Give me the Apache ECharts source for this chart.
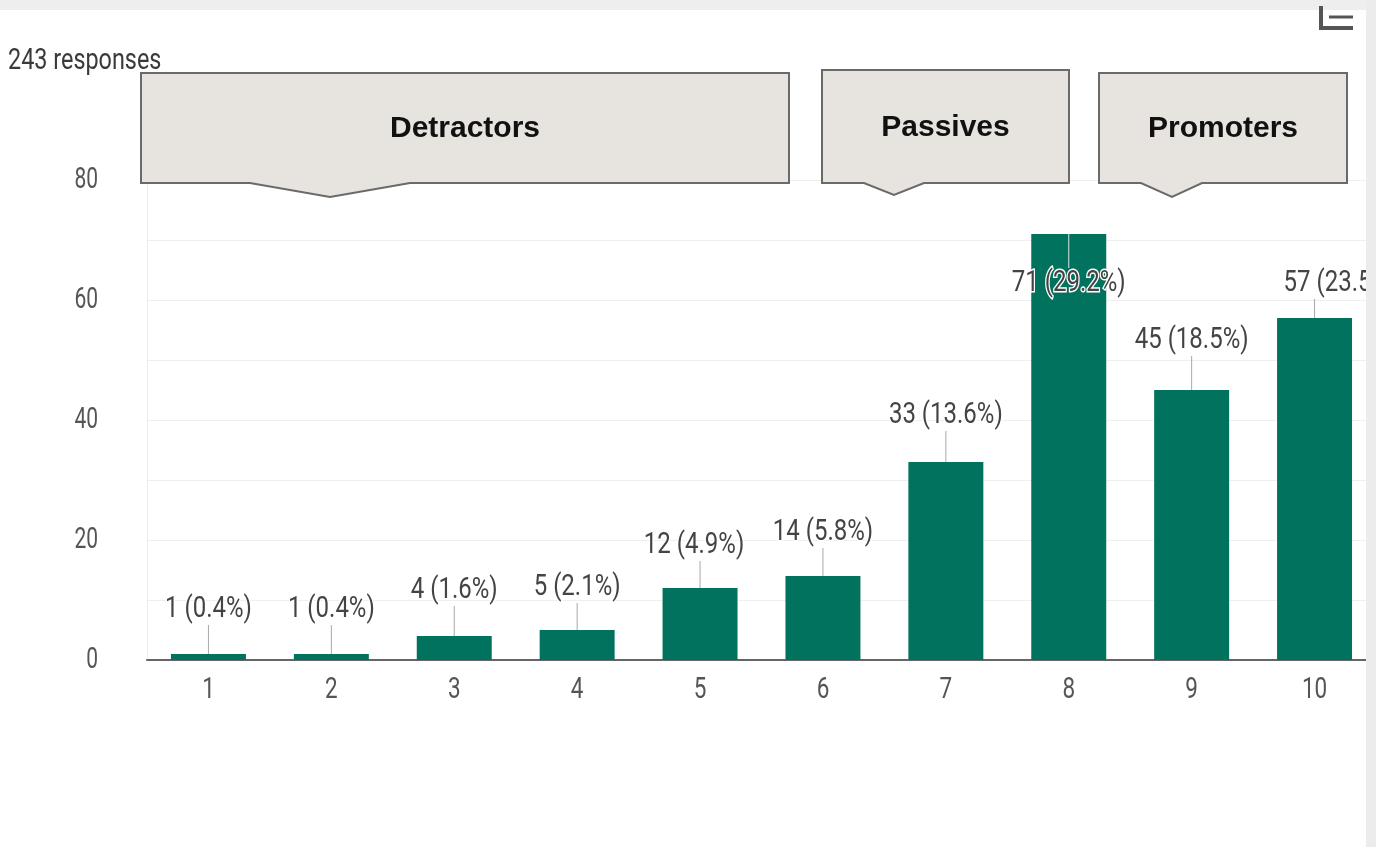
<!DOCTYPE html>
<html>
<head>
<meta charset="utf-8">
<title>243 responses</title>
<script src="https://cdn.jsdelivr.net/npm/echarts@6/dist/echarts.min.js"></script>
<style>
  html, body { margin: 0; padding: 0; background: #ffffff; }
  #chart { width: 1376px; height: 847px; }
</style>
</head>
<body>
<div id="chart"></div>
<script>
// Survey scores 1–10 and the number of responses for each
const categories = ['1', '2', '3', '4', '5', '6', '7', '8', '9', '10'];
const counts = [1, 1, 4, 5, 12, 14, 33, 71, 45, 57];
const percents = ['0.4', '0.4', '1.6', '2.1', '4.9', '5.8', '13.6', '29.2', '18.5', '23.5'];
const yTicks = [0, 20, 40, 60, 80];
const totalLabel = '243 responses';
const groups = ['Detractors', 'Passives', 'Promoters'];

// label placement relative to the top of each bar (pixels)
const labelDy = [-45, -45, -46, -43, -43, -44, -47, 49, -50, -35];
const labelDx = [0, 0, 0, 0, -6, 0, 0, 0, 0, 26];

const BAR = '#00725e';
const TEXT = '#444444';
const AXIS_TEXT = '#555555';
const NUM_FONT = 'Roboto, "Noto Sans", sans-serif';

const chart = echarts.init(document.getElementById('chart'), null, { renderer: 'canvas' });

function valueLabels(params, api) {
  const i = api.value(0);
  const v = api.value(1);
  const top = api.coord([i, v]);
  const dy = labelDy[i];
  const cx = top[0] + labelDx[i];
  const cy = top[1] + dy;
  const lineEnd = dy < 0 ? cy + 16 : cy - 15;
  return {
    type: 'group',
    children: [
      {
        type: 'line',
        shape: { x1: top[0], y1: top[1], x2: top[0], y2: lineEnd },
        style: { stroke: dy < 0 ? '#a8a8a8' : '#d6e6e2', lineWidth: 1 }
      },
      {
        type: 'text',
        x: cx, y: cy,
        scaleX: 0.8,
        style: {
          text: counts[i] + ' (' + percents[i] + '%)',
          font: '30px ' + NUM_FONT,
          fill: TEXT,
          align: 'center',
          verticalAlign: 'middle',
          stroke: '#ffffff',
          lineWidth: 3
        },
        z2: 10
      }
    ]
  };
}

function xTickLabels(params, api) {
  const i = api.value(0);
  const p = api.coord([i, 0]);
  return {
    type: 'text',
    x: p[0], y: p[1] + 30,
    scaleX: 0.75,
    style: {
      text: categories[i],
      font: '30px ' + NUM_FONT,
      fill: AXIS_TEXT,
      align: 'center',
      verticalAlign: 'middle'
    }
  };
}

function yTickLabels(params, api) {
  const v = api.value(1);
  const p = api.coord([0, v]);
  return {
    type: 'text',
    x: params.coordSys.x - 49, y: p[1],
    scaleX: 0.7,
    style: {
      text: String(v),
      font: '30px ' + NUM_FONT,
      fill: AXIS_TEXT,
      align: 'right',
      verticalAlign: 'middle'
    }
  };
}

// callout boxes with a small pointer on the bottom edge
function callout(x1, y1, x2, y2, px1, pxTip, px2, pyTip, label) {
  return [
    {
      type: 'polygon',
      z: 50,
      shape: {
        points: [[x1, y1], [x2, y1], [x2, y2], [px2, y2], [pxTip, pyTip], [px1, y2], [x1, y2]]
      },
      style: { fill: '#e7e3de', stroke: '#6a6a6a', lineWidth: 2 }
    },
    {
      type: 'text',
      z: 51,
      x: (x1 + x2) / 2,
      y: (y1 + y2) / 2 + 1,
      style: {
        text: label,
        font: 'bold 30px "Liberation Sans", Arial, sans-serif',
        fill: '#111111',
        align: 'center',
        verticalAlign: 'middle'
      }
    }
  ];
}

const option = {
  animation: false,
  backgroundColor: '#ffffff',
  grid: { left: 147, top: 180, width: 1241, height: 480, containLabel: false },
  xAxis: {
    type: 'category',
    data: categories,
    axisTick: { show: false },
    axisLabel: { show: false },
    axisLine: { show: true, lineStyle: { color: '#666666', width: 2 } },
    splitLine: { show: false }
  },
  yAxis: {
    type: 'value',
    min: 0,
    max: 80,
    interval: 10,
    axisLabel: { show: false },
    axisTick: { show: false },
    axisLine: { show: true, lineStyle: { color: '#ececec', width: 1 } },
    splitLine: { show: true, lineStyle: { color: '#efefef', width: 1 } }
  },
  series: [
    {
      type: 'bar',
      data: counts,
      barWidth: '61%',
      itemStyle: { color: BAR },
      z: 2
    },
    {
      type: 'custom',
      renderItem: valueLabels,
      data: counts.map((v, i) => [i, v]),
      z: 5,
      clip: false,
      silent: true
    },
    {
      type: 'custom',
      renderItem: xTickLabels,
      data: categories.map((c, i) => [i, 0]),
      z: 5,
      clip: false,
      silent: true
    },
    {
      type: 'custom',
      renderItem: yTickLabels,
      data: yTicks.map(v => [0, v]),
      z: 5,
      clip: false,
      silent: true
    }
  ],
  graphic: [
    // response count heading
    {
      type: 'text',
      z: 60,
      x: 8, y: 61,
      scaleX: 0.78,
      style: {
        text: totalLabel,
        font: '30px ' + NUM_FONT,
        fill: '#3a3a3a',
        align: 'left',
        verticalAlign: 'middle'
      }
    },
    ...callout(141, 73, 789, 183, 250, 330, 410, 197, groups[0]),
    ...callout(822, 70, 1069, 183, 864, 894, 924, 195, groups[1]),
    ...callout(1099, 73, 1347, 183, 1141, 1172, 1202, 197, groups[2]),
    // page chrome: top band and right strip
    { type: 'rect', z: 100, shape: { x: 0, y: 0, width: 1376, height: 10 }, style: { fill: '#eeeeee' } },
    { type: 'rect', z: 100, shape: { x: 1366, y: 0, width: 10, height: 847 }, style: { fill: '#ececec' } },
    // toolbar icon (partly visible)
    {
      type: 'polyline', z: 101,
      shape: { points: [[1321, 6], [1321, 28], [1353, 28]] },
      style: { stroke: '#555555', lineWidth: 4, fill: null }
    },
    {
      type: 'line', z: 101,
      shape: { x1: 1329, y1: 17, x2: 1353, y2: 17 },
      style: { stroke: '#555555', lineWidth: 3 }
    }
  ]
};

chart.setOption(option);
</script>
</body>
</html>
